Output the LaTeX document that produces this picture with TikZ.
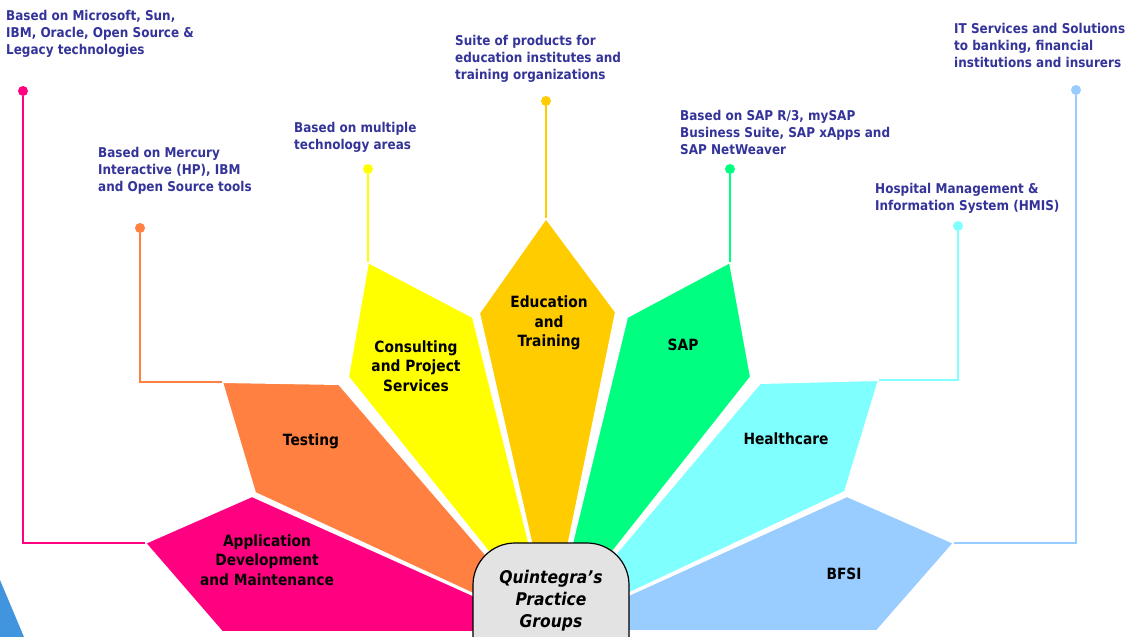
\documentclass[tikz,border=0pt]{standalone}
\usepackage{fontspec}
\setmainfont{DejaVu Sans}[FakeStretch=0.89]
\definecolor{cpink}{HTML}{FF0080}
\definecolor{corange}{HTML}{FF8040}
\definecolor{cyellow}{HTML}{FFFF00}
\definecolor{cgold}{HTML}{FFCC00}
\definecolor{cgreen}{HTML}{00FF80}
\definecolor{ccyan}{HTML}{80FFFF}
\definecolor{clblue}{HTML}{99CCFF}
\definecolor{descblue}{HTML}{333399}
\definecolor{hubgray}{HTML}{E3E3E3}
\definecolor{cornerblue}{HTML}{4194DE}
\begin{document}
\begin{tikzpicture}[x=1pt,y=-1pt,
  petal/.style={draw=white,line width=2pt,line join=round},
  desc/.style={anchor=north west,inner sep=0pt,text=descblue,align=left,
    font=\fontsize{13.5}{17}\selectfont\bfseries},
  lbl/.style={inner sep=0pt,align=center,font=\fontsize{15.5}{19.5}\selectfont\bfseries},
  conn/.style={line width=1.5pt},
  dotnode/.style={circle,inner sep=0pt,minimum size=10pt},
  hubbox/.style={rectangle,draw=black,line width=1.2pt,fill=hubgray,
    minimum width=156pt,minimum height=200pt,rounded corners=42pt,inner sep=0pt},
  hubtext/.style={inner sep=0pt,align=center,font=\fontsize{17.5}{22}\selectfont\bfseries\itshape}]
\useasboundingbox (0,0) rectangle (1125,637);
% corner decoration
\fill[cornerblue] (0,580) -- (24,637) -- (0,637) -- cycle;
% common centre of the petals
\coordinate (o) at (551,630);
% attachment vertices
\coordinate (pinkV) at (145,543);
\coordinate (orangeV) at (222,382);
\coordinate (yellowV) at (368,262);
\coordinate (goldV) at (546,218);
\coordinate (greenV) at (730,262);
\coordinate (cyanV) at (879,380);
\coordinate (lblueV) at (954,543);
% petals
\fill[cpink,petal] (pinkV) -- (252,496) -- (o) -- (551,632) -- (222,632) -- cycle;
\fill[corange,petal] (orangeV) -- (339,384) -- (o) -- (255,493) -- cycle;
\fill[cyellow,petal] (yellowV) -- (473,317) -- (o) -- (348,377) -- cycle;
\fill[cgold,petal] (goldV) -- (616,312) -- (o) -- (479,313) -- cycle;
\fill[cgreen,petal] (greenV) -- (751,377) -- (o) -- (627,317) -- cycle;
\fill[ccyan,petal] (760,383) -- (cyanV) -- (845,492) -- (o) -- cycle;
\fill[clblue,petal] (847,496) -- (lblueV) -- (877,631) -- (551,631) -- (o) -- cycle;
% dots
\node[dotnode,fill=cpink] (pinkD) at (23,91) {};
\node[dotnode,fill=corange] (orangeD) at (140,228) {};
\node[dotnode,fill=cyellow] (yellowD) at (368,169) {};
\node[dotnode,fill=cgold] (goldD) at (546,101) {};
\node[dotnode,fill=cgreen] (greenD) at (730,169) {};
\node[dotnode,fill=ccyan] (cyanD) at (958,226) {};
\node[dotnode,fill=clblue] (lblueD) at (1076,90) {};
% connectors
\draw[conn,cpink] (pinkV) -| (pinkD);
\draw[conn,corange] (orangeV) -| (orangeD);
\draw[conn,cyellow] (yellowV) -- (yellowD);
\draw[conn,cgold] (goldV) -- (goldD);
\draw[conn,cgreen] (greenV) -- (greenD);
\draw[conn,ccyan] (cyanV) -| (cyanD);
\draw[conn,clblue] (lblueV) -| (lblueD);
% petal labels
\node[lbl] (tApp) at (267,560) {Application\\Development\\and Maintenance};
\node[lbl] (tTest) at (311,441) {Testing};
\node[lbl] (tCons) at (416,366) {Consulting\\and Project\\Services};
\node[lbl] (tEdu) at (549,323) {Education\\and\\Training};
\node[lbl] (tSap) at (683,344.5) {SAP};
\node[lbl] (tHealth) at (786,439) {Healthcare};
\node[lbl] (tBfsi) at (844,574) {BFSI};
% hub
\node[hubbox] (hub) at (551,643) {};
\node[hubtext] (hubT) at (551,601) {Quintegra’s\\Practice\\Groups};
% descriptions
\node[desc] (dApp) at (6,10) {Based on Microsoft, Sun,\\IBM, Oracle, Open Source \&\\Legacy technologies};
\node[desc] (dTest) at (98,147) {Based on Mercury\\Interactive (HP), IBM\\and Open Source tools};
\node[desc] (dCons) at (294,122) {Based on multiple\\technology areas};
\node[desc] (dEdu) at (455,35) {Suite of products for\\education institutes and\\training organizations};
\node[desc] (dSap) at (680,110) {Based on SAP R/3, mySAP\\Business Suite, SAP xApps and\\SAP NetWeaver};
\node[desc] (dHealth) at (875,183) {Hospital Management \&\\Information System (HMIS)};
\node[desc] (dBfsi) at (954,23) {IT Services and Solutions\\to banking, financial\\institutions and insurers};
\end{tikzpicture}
\end{document}
